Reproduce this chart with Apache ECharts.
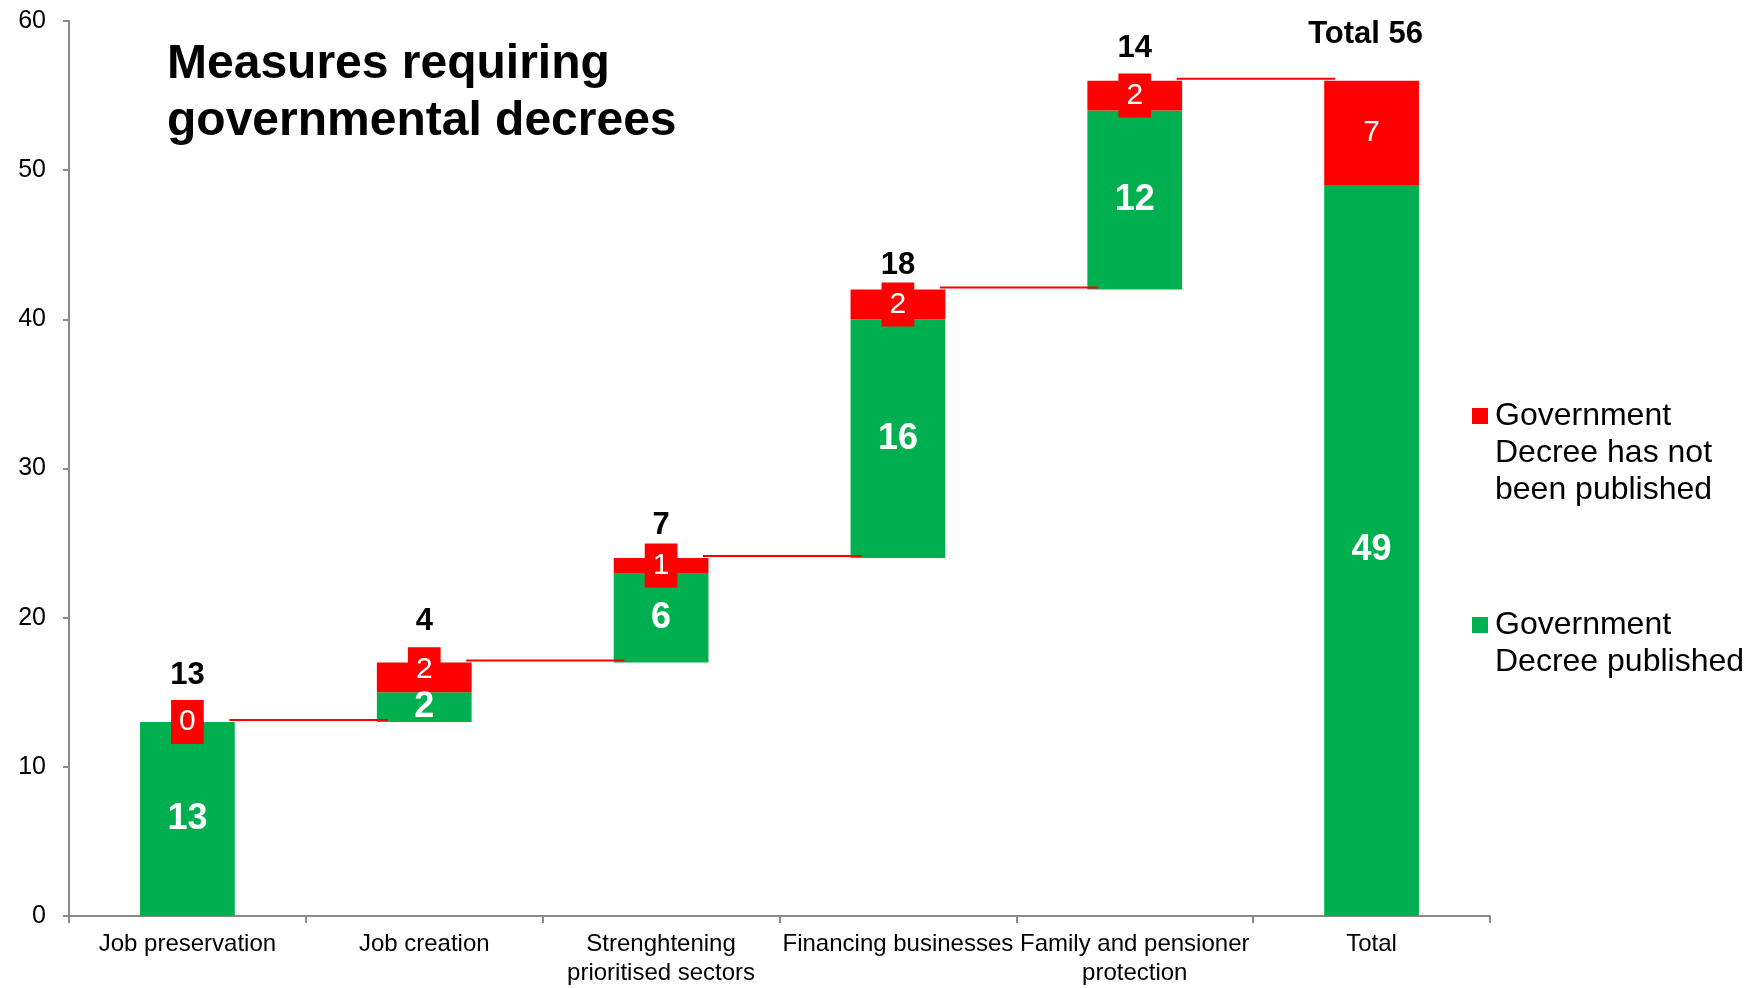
<!DOCTYPE html>
<html><head><meta charset="utf-8">
<script src="https://cdn.jsdelivr.net/npm/echarts@6/dist/echarts.min.js"></script>
<style>html,body{margin:0;padding:0;background:#fff}#c{width:1747px;height:988px}</style>
</head><body><div id="c"></div>
<script>
// ---- data ----
const categories = ['Job preservation', 'Job creation', 'Strenghtening\nprioritised sectors', 'Financing businesses', 'Family and pensioner\nprotection', 'Total'];
const publishedValues = [13, 2, 6, 16, 12, 49];
const notPublishedValues = [0, 2, 1, 2, 2, 7];
const publishedName = 'Government\nDecree published';
const notPublishedName = 'Government\nDecree has not\nbeen published';
const titleText = 'Measures requiring\ngovernmental decrees';
const yMin = 0, yMax = 60, yInterval = 10;

// ---- derived ----
const FONT = '"Liberation Sans", Arial, Helvetica, sans-serif';
const last = categories.length - 1;
const totals = publishedValues.map((v, i) => v + notPublishedValues[i]);
const bases = [];
let run = 0;
for (let i = 0; i < categories.length; i++) {
  if (i === last) { bases.push(0); } else { bases.push(run); run += totals[i]; }
}
const tops = bases.map((b, i) => b + totals[i]);
const totalLabelText = totals.map((t, i) => i === last ? 'Total ' + t : String(t));

// label styling tweaks (pixels, not data)
const totalLabelLift = [47, 41, 33, 24, 32, 46];
const totalLabelDx = [0, 0, 0, 0, 0, -6];
const redLabelShift = [0, -8, 0, 0, 0, 0];

// legend icons: a 16px square at the top of a taller box so it sits on the first text line
const LINE_H = 37;
function legendIcon(lines) {
  const h = 16 + (lines - 1) * LINE_H;
  return {h: h, path: 'path://M0,0L16,0L16,16L0,16Z M18,' + h + 'L17.99,' + h + 'L18,' + (h - 0.01) + 'Z'};
}
const icon1 = legendIcon(3), icon2 = legendIcon(2);

const chart = echarts.init(document.getElementById('c'), null, {renderer: 'canvas'});
const option = {
  backgroundColor: '#fff',
  animation: false,
  textStyle: {fontFamily: FONT},
  title: {
    text: titleText, left: 167, top: 36, padding: 0,
    textStyle: {fontSize: 48, fontWeight: 'bold', lineHeight: 57, color: '#000', fontFamily: FONT}
  },
  legend: [
    {
      data: [notPublishedName], orient: 'vertical', left: 1472, top: 408 + (icon1.h / 2 - 1.5 * LINE_H), padding: 0,
      itemWidth: 18, itemHeight: icon1.h, icon: icon1.path, symbolKeepAspect: true, selectedMode: false,
      textStyle: {fontSize: 32, lineHeight: LINE_H, color: '#000', fontFamily: FONT}
    },
    {
      data: [publishedName], orient: 'vertical', left: 1472, top: 617 + (icon2.h / 2 - 1 * LINE_H), padding: 0,
      itemWidth: 18, itemHeight: icon2.h, icon: icon2.path, symbolKeepAspect: true, selectedMode: false,
      textStyle: {fontSize: 32, lineHeight: LINE_H, color: '#000', fontFamily: FONT}
    }
  ],
  grid: {left: 69, right: 257, top: 21, bottom: 68, containLabel: false},
  xAxis: {
    type: 'category', data: categories,
    axisLine: {lineStyle: {color: '#8a8a8a', width: 2}},
    axisTick: {show: true, length: 7, lineStyle: {color: '#8a8a8a', width: 2}},
    axisLabel: {interval: 0, fontSize: 24, lineHeight: 29, margin: 14, color: '#000', fontFamily: FONT},
    splitLine: {show: false}
  },
  yAxis: {
    type: 'value', min: yMin, max: yMax, interval: yInterval,
    axisLine: {show: true, lineStyle: {color: '#8a8a8a', width: 2}},
    axisTick: {show: true, length: 6, lineStyle: {color: '#8a8a8a', width: 2}},
    axisLabel: {fontSize: 25, margin: 23, color: '#000', fontFamily: FONT},
    splitLine: {show: false}
  },
  series: [
    {
      name: 'base', type: 'bar', stack: 'w', barWidth: '40%', silent: true,
      itemStyle: {color: 'rgba(0,0,0,0)'}, label: {show: false},
      data: bases
    },
    {
      name: publishedName, type: 'bar', stack: 'w', barWidth: '40%',
      itemStyle: {color: '#00B050'},
      label: {show: true, position: 'inside', color: '#fff', fontSize: 36, fontWeight: 'bold', fontFamily: FONT},
      data: publishedValues
    },
    {
      name: notPublishedName, type: 'bar', stack: 'w', barWidth: '40%',
      itemStyle: {color: '#FF0000'},
      label: {show: true, position: 'inside', color: '#fff', fontSize: 30, lineHeight: 32,
        backgroundColor: '#FF0000', padding: [6, 8], fontFamily: FONT},
      labelLayout: function (p) { return {dy: redLabelShift[p.dataIndex], hideOverlap: false}; },
      data: notPublishedValues
    },
    {
      name: 'connectors', type: 'custom', z: 5, silent: true,
      data: tops.slice(0, last).map((t, i) => [i, t]),
      renderItem: function (params, api) {
        const i = api.value(0), v = api.value(1);
        const p1 = api.coord([i, v]);
        const p2 = api.coord([i + 1, v]);
        const band = api.size([1, 0])[0];
        return {
          type: 'line',
          shape: {x1: p1[0] + 0.177 * band, y1: p1[1] - 2, x2: p2[0] - 0.154 * band, y2: p1[1] - 2},
          style: {stroke: '#FF0000', lineWidth: 2}
        };
      }
    },
    {
      name: 'totals', type: 'scatter', symbol: 'circle', symbolSize: 1, silent: true, z: 6,
      itemStyle: {color: 'rgba(0,0,0,0)', opacity: 1},
      label: {show: true, position: 'inside', color: '#000', fontSize: 31, fontWeight: 'bold', fontFamily: FONT,
        formatter: p => totalLabelText[p.dataIndex]},
      labelLayout: function (p) { return {dx: totalLabelDx[p.dataIndex], dy: -totalLabelLift[p.dataIndex], hideOverlap: false}; },
      data: tops.map((t, i) => [i, t])
    }
  ]
};
chart.setOption(option);
</script>
</body></html>
